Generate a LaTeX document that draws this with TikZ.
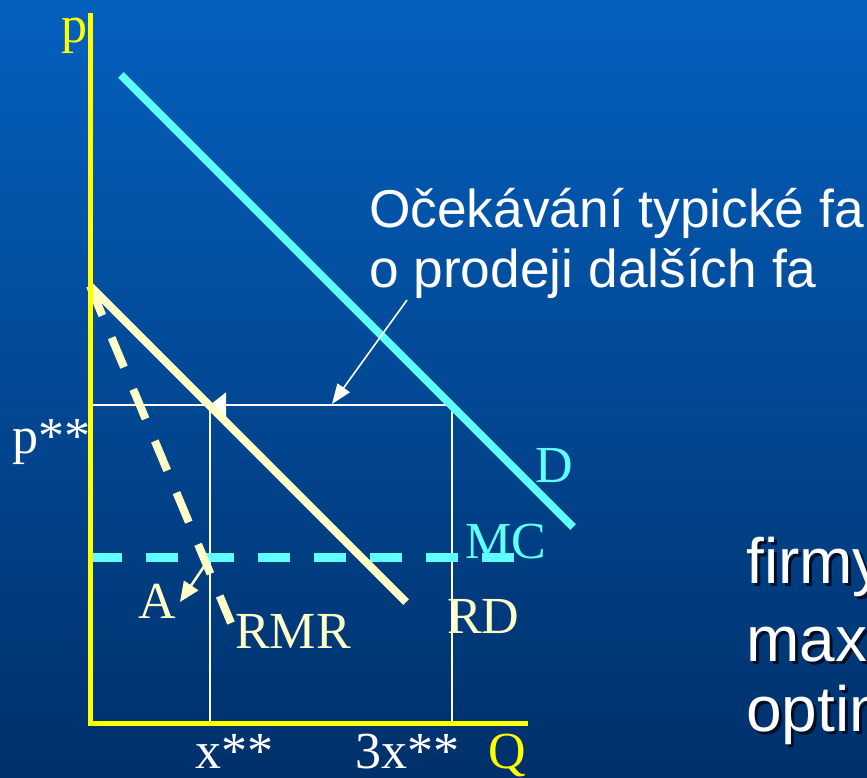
\documentclass[tikz,border=0pt]{standalone}
\usepackage{fontspec}
\setmainfont{Liberation Serif}
\newfontfamily\arialfam{Liberation Sans}
\usetikzlibrary{arrows.meta}
\definecolor{bgtop}{RGB}{4,96,190}
\definecolor{bgbot}{RGB}{0,48,106}
\definecolor{cyanl}{RGB}{96,255,255}
\definecolor{cream}{RGB}{255,255,200}
\definecolor{axisyellow}{RGB}{255,255,0}
\definecolor{shadowc}{RGB}{0,14,40}
\begin{document}
\begin{tikzpicture}[x=1pt,y=-1pt,
  serif/.style={inner sep=0pt, anchor=base west, font=\fontsize{52pt}{60pt}\selectfont},
  sans/.style={inner sep=0pt, anchor=base west, font=\arialfam\fontsize{53.3pt}{60pt}\selectfont, text=white},
  bigsans/.style={inner sep=0pt, anchor=base west, font=\arialfam\fontsize{64pt}{74pt}\selectfont},
  axisline/.style={draw=axisyellow, line width=5pt},
  guide/.style={draw=white, line width=2pt},
  dashpat/.style={dash pattern=on 32pt off 24pt},
]
% background
\begin{scope}[y=1pt]
  \shade[top color=bgtop, bottom color=bgbot] (0,0) rectangle (867,-778);
\end{scope}
\useasboundingbox (0,0) rectangle (867,778);

% key points
\coordinate (origin) at (90,723);
\coordinate (ytop) at (90,13);
\coordinate (xend) at (528,723);
\coordinate (rmrtop) at (90,286);
\coordinate (rmrend) at (406,602);
\coordinate (dstart) at (121,75);
\coordinate (dend) at (573,527);
\coordinate (dashend) at (231,623);
\coordinate (mcstart) at (90,557);
\coordinate (mcend) at (514,557);
\coordinate (pleft) at (90,405);
\coordinate (xs) at (210,405);
\coordinate (xsb) at (210,723);
\coordinate (rd) at (452,405);
\coordinate (rdb) at (452,723);
\coordinate (arrstart) at (407,300);
\coordinate (arrend) at (332,404);
\coordinate (astart) at (205,565);
\coordinate (aend) at (180,602);

% guide lines (white)
\draw[guide] (pleft) -- (rd);
\draw[guide] (xs) -- (xsb);
\draw[guide] (rd) -- (rdb);
\draw[white, line width=2pt, -{Triangle[length=16pt,width=25pt]}] (rd) -- (xs);

% MC dashed
\draw[cyanl, line width=9pt, dashpat] (mcstart) -- (mcend);

% RMR dashed
\draw[cream, line width=8pt, dashpat] (rmrtop) -- (dashend);
% RMR solid (RD)
\draw[cream, line width=8pt] (rmrtop) -- (rmrend);
% Demand
\draw[cyanl, line width=8pt] (dstart) -- (dend);

% axes
\draw[axisline] (ytop) -- (90,725);
\draw[axisline] (88,723) -- (xend);

% arrows
\draw[white, line width=1.6pt, -{Triangle[length=20pt,width=15pt]}] (arrstart) -- (arrend);
\draw[cream, line width=2.5pt, -{Triangle[length=20pt,width=17pt]}] (astart) -- (aend);

% labels
\node[serif, text=axisyellow] (plab) at (61,43) {p};
\node[serif, text=axisyellow] (qlab) at (488,768) {Q};
\node[serif, text=white] (pss) at (12,453) {p**};
\node[serif, text=white] (xss) at (195,768) {x**};
\node[serif, text=white] (xss3) at (355,768) {3x**};
\node[serif, text=cream] (rmrlab) at (235,648) {RMR};
\node[serif, text=cream] (rdlab) at (447,633) {RD};
\node[serif, text=cream] (alab) at (138,618) {A};
\node[serif, text=cyanl] (dlab) at (535,482) {D};
\node[serif, text=cyanl] (mclab) at (465,558) {MC};

% explanatory text
\node[sans] (exp1) at (369,227) {Očekávání typické fa};
\node[sans] (exp2) at (369,287) {o prodeji dalších fa};

% right text with shadow
\node[bigsans, text=shadowc] at (749,586) {firmy};
\node[bigsans, text=white] (t1) at (746,583) {firmy};
\node[bigsans, text=shadowc] at (749,664) {max};
\node[bigsans, text=white] (t2) at (746,661) {max};
\node[bigsans, text=shadowc] at (749,734) {optim};
\node[bigsans, text=white] (t3) at (746,731) {optim};
\end{tikzpicture}
\end{document}
